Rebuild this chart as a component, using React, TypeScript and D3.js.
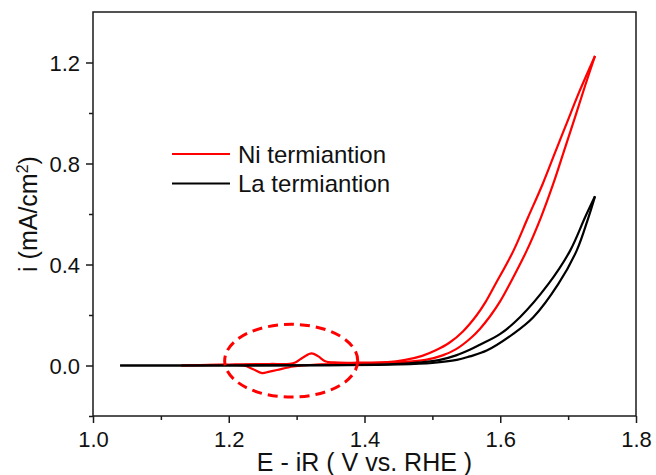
import React, { useEffect, useRef } from "react";
import * as d3 from "d3";

// potentials (V vs RHE) and currents (mA/cm2)
const niForwardE = [1.13, 1.2, 1.26, 1.29, 1.298, 1.31, 1.322, 1.332, 1.342, 1.355, 1.39, 1.43, 1.46, 1.49, 1.515, 1.535, 1.555, 1.57, 1.585, 1.6, 1.614, 1.639, 1.66, 1.678, 1.694, 1.71, 1.725, 1.7396];
const niForwardI = [0.0, 0.004, 0.006, 0.007, 0.012, 0.033, 0.048, 0.036, 0.017, 0.012, 0.011, 0.012, 0.014, 0.022, 0.04, 0.065, 0.105, 0.145, 0.195, 0.255, 0.323, 0.455, 0.587, 0.719, 0.85, 0.982, 1.108, 1.226];
const niReverseE = [1.13, 1.2, 1.222, 1.236, 1.249, 1.26, 1.271, 1.295, 1.33, 1.38, 1.43, 1.46, 1.485, 1.505, 1.525, 1.545, 1.565, 1.578, 1.592, 1.619, 1.641, 1.6625, 1.681, 1.698, 1.715, 1.7396];
const niReverseI = [0.0, 0.002, 0.0, -0.015, -0.03, -0.024, -0.018, -0.004, 0.004, 0.006, 0.012, 0.022, 0.038, 0.06, 0.09, 0.135, 0.198, 0.25, 0.318, 0.452, 0.587, 0.719, 0.845, 0.96, 1.075, 1.226];

const laForwardE = [1.04, 1.2, 1.35, 1.45, 1.5, 1.536, 1.555, 1.58, 1.619, 1.6487, 1.6856, 1.7126, 1.73, 1.7396];
const laForwardI = [0.0, 0.0, 0.001, 0.004, 0.01, 0.022, 0.036, 0.059, 0.125, 0.191, 0.323, 0.455, 0.587, 0.67];
const laReverseE = [1.04, 1.2, 1.35, 1.42, 1.46, 1.49, 1.511, 1.535, 1.555, 1.57, 1.6, 1.629, 1.671, 1.703, 1.725, 1.7396];
const laReverseI = [0.0, 0.0, 0.001, 0.004, 0.008, 0.014, 0.022, 0.04, 0.062, 0.082, 0.125, 0.191, 0.323, 0.455, 0.587, 0.67];

const seriesNames = ["Ni termiantion", "La termiantion"];
const seriesColors = ["#ff0000", "#000000"];

const xMajorTicks = [1.0, 1.2, 1.4, 1.6, 1.8];
const xMinorTicks = [1.1, 1.3, 1.5, 1.7];
const yMajorTicks = [0.0, 0.4, 0.8, 1.2];
const yMinorTicks = [-0.2, 0.2, 0.6, 1.0];

function App() {
    const svgRef = useRef(null);

    useEffect(() => {
        const width = 656;
        const height = 475;
        const margin = { top: 12, right: 20, bottom: 59, left: 93 };
        const font = "'Liberation Sans', Arial, sans-serif";

        const svg = d3.select(svgRef.current);
        svg.selectAll("*").remove();

        const x = d3.scaleLinear().domain([1.0, 1.8]).range([margin.left, width - margin.right]);
        const y = d3.scaleLinear().domain([-0.2, 1.4]).range([height - margin.bottom, margin.top]);

        const line = d3
            .line()
            .x((d) => x(d[0]))
            .y((d) => y(d[1]))
            .curve(d3.curveCatmullRom.alpha(0.5));

        const zip = (a, b) => a.map((v, i) => [v, b[i]]);
        const branches = [
            { data: zip(niForwardE, niForwardI), color: seriesColors[0] },
            { data: zip(niReverseE, niReverseI), color: seriesColors[0] },
            { data: zip(laForwardE, laForwardI), color: seriesColors[1] },
            { data: zip(laReverseE, laReverseI), color: seriesColors[1] },
        ];

        svg.append("g")
            .selectAll("path")
            .data(branches)
            .enter()
            .append("path")
            .attr("d", (d) => line(d.data))
            .attr("fill", "none")
            .attr("stroke", (d) => d.color)
            .attr("stroke-width", 2.2)
            .attr("stroke-linejoin", "round");

        // dashed ellipse around the Ni redox peaks
        const cx = x(1.292);
        const cy = y(0.019);
        svg.append("ellipse")
            .attr("cx", cx)
            .attr("cy", cy)
            .attr("rx", x(1.39) - cx)
            .attr("ry", y(-0.125) - cy)
            .attr("fill", "none")
            .attr("stroke", "#ff0000")
            .attr("stroke-width", 3)
            .attr("stroke-dasharray", "10,6");

        // frame
        const axisColor = "#1a1a1a";
        svg.append("rect")
            .attr("x", x(1.0))
            .attr("y", y(1.4))
            .attr("width", x(1.8) - x(1.0))
            .attr("height", y(-0.2) - y(1.4))
            .attr("fill", "none")
            .attr("stroke", axisColor)
            .attr("stroke-width", 1.5);

        // x axis
        const xAxis = d3.axisBottom(x).tickValues(xMajorTicks).tickSize(7).tickFormat(d3.format(".1f"));
        const gx = svg.append("g").attr("transform", `translate(0,${y(-0.2)})`).call(xAxis);
        gx.select(".domain").remove();
        gx.selectAll("line").attr("stroke", axisColor).attr("stroke-width", 1.5);
        gx.selectAll("text")
            .attr("y", 31)
            .attr("dy", 0)
            .attr("fill", "#111")
            .style("font-family", font)
            .style("font-size", "22px");
        svg.append("g")
            .attr("transform", `translate(0,${y(-0.2)})`)
            .call(d3.axisBottom(x).tickValues(xMinorTicks).tickSize(4).tickFormat(() => ""))
            .call((g) => g.select(".domain").remove())
            .selectAll("line")
            .attr("stroke", axisColor)
            .attr("stroke-width", 1.5);

        // y axis
        const yAxis = d3.axisLeft(y).tickValues(yMajorTicks).tickSize(7).tickFormat(d3.format(".1f"));
        const gy = svg.append("g").attr("transform", `translate(${x(1.0)},0)`).call(yAxis);
        gy.select(".domain").remove();
        gy.selectAll("line").attr("stroke", axisColor).attr("stroke-width", 1.5);
        gy.selectAll("text")
            .attr("x", -13)
            .attr("dy", "0.36em")
            .attr("fill", "#111")
            .style("font-family", font)
            .style("font-size", "22px");
        svg.append("g")
            .attr("transform", `translate(${x(1.0)},0)`)
            .call(d3.axisLeft(y).tickValues(yMinorTicks).tickSize(4).tickFormat(() => ""))
            .call((g) => g.select(".domain").remove())
            .selectAll("line")
            .attr("stroke", axisColor)
            .attr("stroke-width", 1.5);

        // axis titles
        svg.append("text")
            .attr("x", (x(1.0) + x(1.8)) / 2)
            .attr("y", 471)
            .attr("text-anchor", "middle")
            .attr("fill", "#111")
            .style("font-family", font)
            .style("font-size", "25px")
            .text("E - iR ( V vs. RHE )");

        const yTitle = svg.append("text")
            .attr("transform", `translate(37,${(y(-0.2) + y(1.4)) / 2}) rotate(-90)`)
            .attr("text-anchor", "middle")
            .attr("fill", "#111")
            .style("font-family", font)
            .style("font-size", "25px");
        yTitle.append("tspan").text("i (mA/cm");
        yTitle.append("tspan").attr("dy", -9).style("font-size", "16px").text("2");
        yTitle.append("tspan").attr("dy", 9).text(")");

        // legend
        const legend = svg.append("g").attr("transform", "translate(172,154)");
        const items = legend
            .selectAll("g")
            .data(seriesNames)
            .enter()
            .append("g")
            .attr("transform", (d, i) => `translate(0,${i * 29.5})`);
        items.append("line")
            .attr("x1", 0)
            .attr("x2", 58)
            .attr("stroke", (d, i) => seriesColors[i])
            .attr("stroke-width", 2.2);
        items.append("text")
            .attr("x", 66)
            .attr("dy", "0.36em")
            .attr("fill", "#111")
            .style("font-family", font)
            .style("font-size", "24px")
            .text((d) => d);
    }, []);

    return (
        <svg
            ref={svgRef}
            width={656}
            height={475}
            style={{ position: "absolute", left: 0, top: 0, background: "#fff" }}
        ></svg>
    );
}

export default App;
